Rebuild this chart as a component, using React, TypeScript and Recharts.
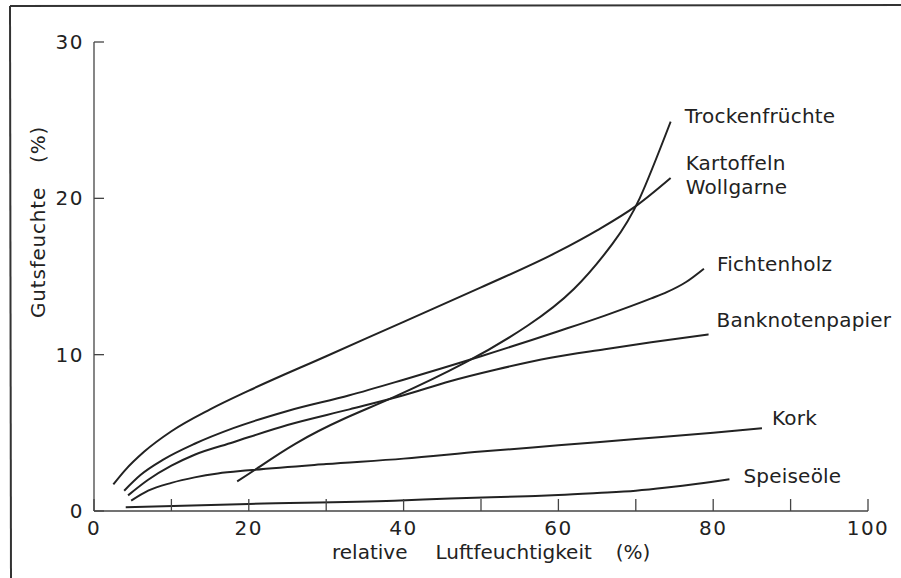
import React from "react";
import { LineChart, Line, XAxis, YAxis } from "recharts";

// x = relative Luftfeuchtigkeit (%), y = Gutsfeuchte (%)
const kartoffeln = [
  { x: 2.5, y: 1.7 }, { x: 4, y: 2.6 }, { x: 6.5, y: 3.8 }, { x: 10, y: 5.1 },
  { x: 15, y: 6.5 }, { x: 20, y: 7.7 }, { x: 30, y: 9.9 }, { x: 40, y: 12.1 },
  { x: 50, y: 14.3 }, { x: 60, y: 16.6 }, { x: 65, y: 17.95 }, { x: 70, y: 19.5 },
  { x: 74.5, y: 21.3 },
];
const trockenfruechte = [
  { x: 18.5, y: 1.9 }, { x: 21, y: 2.7 }, { x: 26, y: 4.3 }, { x: 32.3, y: 5.9 },
  { x: 38.8, y: 7.3 }, { x: 48, y: 9.5 }, { x: 56, y: 11.85 }, { x: 62, y: 14.2 },
  { x: 67, y: 17.1 }, { x: 70.5, y: 20.0 }, { x: 74.5, y: 24.9 },
];
const fichtenholz = [
  { x: 3.9, y: 1.3 }, { x: 6, y: 2.3 }, { x: 9, y: 3.3 }, { x: 13, y: 4.3 },
  { x: 18, y: 5.3 }, { x: 25, y: 6.4 }, { x: 33, y: 7.4 }, { x: 40, y: 8.4 },
  { x: 50, y: 9.9 }, { x: 60, y: 11.5 }, { x: 66, y: 12.5 }, { x: 72, y: 13.6 },
  { x: 74, y: 14.0 }, { x: 76.5, y: 14.65 }, { x: 78.8, y: 15.5 },
];
const banknotenpapier = [
  { x: 4.4, y: 1.0 }, { x: 7, y: 2.0 }, { x: 10, y: 2.9 }, { x: 13, y: 3.6 },
  { x: 18, y: 4.4 }, { x: 25, y: 5.5 }, { x: 33, y: 6.5 }, { x: 40, y: 7.4 },
  { x: 46, y: 8.3 }, { x: 52, y: 9.05 }, { x: 59, y: 9.8 }, { x: 66, y: 10.35 },
  { x: 72, y: 10.8 }, { x: 79.4, y: 11.3 },
];
const kork = [
  { x: 4.8, y: 0.66 }, { x: 7, y: 1.3 }, { x: 10, y: 1.8 }, { x: 13, y: 2.15 },
  { x: 16, y: 2.4 }, { x: 20, y: 2.6 }, { x: 30, y: 3.0 }, { x: 40, y: 3.35 },
  { x: 50, y: 3.8 }, { x: 60, y: 4.2 }, { x: 70, y: 4.6 }, { x: 80, y: 5.0 },
  { x: 86.3, y: 5.3 },
];
const speiseoele = [
  { x: 4.1, y: 0.24 }, { x: 20, y: 0.45 }, { x: 38.8, y: 0.66 }, { x: 46, y: 0.8 },
  { x: 56, y: 0.95 }, { x: 60, y: 1.02 }, { x: 65, y: 1.15 }, { x: 70, y: 1.3 },
  { x: 74, y: 1.5 }, { x: 78, y: 1.74 }, { x: 82.1, y: 2.03 },
];

const xTicks = [0, 10, 20, 30, 40, 50, 60, 70, 80, 90, 100];
const xLabels = [0, 20, 40, 60, 80, 100];
const yTicks = [0, 10, 20, 30];

const series = [
  { key: "trocken", data: trockenfruechte, curve: "natural", names: ["Trockenfrüchte"], dx: 14, dy: -6 },
  { key: "kartoffeln", data: kartoffeln, curve: "monotone", names: ["Kartoffeln", "Wollgarne"], dx: 15, dy: -15 },
  { key: "fichte", data: fichtenholz, curve: "monotone", names: ["Fichtenholz"], dx: 13, dy: -5 },
  { key: "bank", data: banknotenpapier, curve: "monotone", names: ["Banknotenpapier"], dx: 8, dy: -14 },
  { key: "kork", data: kork, curve: "monotone", names: ["Kork"], dx: 10, dy: -10 },
  { key: "oel", data: speiseoele, curve: "monotone", names: ["Speiseöle"], dx: 14, dy: -3 },
];

const font = "'DejaVu Sans', sans-serif";
const ink = "#222";

const XTick = (props: any) => {
  const { x, y, payload } = props;
  return (
    <g>
      <line x1={x} y1={y} x2={x} y2={y - 12} stroke="#444" strokeWidth={1.3} />
      {xLabels.includes(payload.value) && (
        <text x={x} y={y + 17} textAnchor="middle" dominantBaseline="central"
          fontSize={20} letterSpacing={1.5} fontFamily={font} fill={ink}>
          {payload.value}
        </text>
      )}
    </g>
  );
};

const YTick = (props: any) => {
  const { x, y, payload } = props;
  return (
    <g>
      <line x1={x} y1={y} x2={x + 10} y2={y} stroke="#444" strokeWidth={1.3} />
      <text x={x - 10} y={y} textAnchor="end" dominantBaseline="central"
        fontSize={20} letterSpacing={1.5} fontFamily={font} fill={ink}>
        {payload.value}
      </text>
    </g>
  );
};

const endLabel = (names: string[], len: number, dx: number, dy: number) => (props: any) => {
  const { x, y, index } = props;
  if (index !== len - 1) return null;
  return (
    <g>
      {names.map((n, i) => (
        <text key={n} x={x + dx} y={y + dy + i * 24} dominantBaseline="central"
          fontSize={20} letterSpacing={0.2} fontFamily={font} fill={ink}>
          {n}
        </text>
      ))}
    </g>
  );
};

export default function App() {
  return (
    <div style={{ position: "absolute", left: 0, top: 0, width: 901, height: 578, background: "#fff" }}>
      <svg width={901} height={578} style={{ position: "absolute", left: 0, top: 0 }}>
        <line x1={10} y1={6} x2={901} y2={5} stroke="#333" strokeWidth={2} />
        <line x1={10} y1={6} x2={11} y2={578} stroke="#333" strokeWidth={2} />
        <text x={332} y={552} dominantBaseline="central"
          fontSize={20} fontFamily={font} fill={ink}>
          <tspan>relative</tspan>
          <tspan dx={28}>Luftfeuchtigkeit</tspan>
          <tspan dx={24}>(%)</tspan>
        </text>
        <text x={38} y={318} dominantBaseline="central" letterSpacing={0.8}
          fontSize={20} fontFamily={font} fill={ink} transform="rotate(-90 38 318)">
          <tspan>Gutsfeuchte</tspan>
          <tspan dx={24}>(%)</tspan>
        </text>
      </svg>
      <div style={{ position: "absolute", left: 0, top: 0 }}>
        <LineChart width={901} height={578} margin={{ top: 42, right: 33, left: 34, bottom: 37 }}>
          <XAxis dataKey="x" type="number" domain={[0, 100]} ticks={xTicks} height={30}
            tickSize={0} tickMargin={0} tickLine={false} tick={<XTick />}
            axisLine={{ stroke: "#444", strokeWidth: 1.3 }} allowDataOverflow />
          <YAxis type="number" domain={[0, 30]} ticks={yTicks} width={60}
            tickSize={0} tickMargin={0} tickLine={false} tick={<YTick />}
            axisLine={{ stroke: "#444", strokeWidth: 1.3 }} allowDataOverflow />
          {series.map((s) => (
            <Line key={s.key} data={s.data} dataKey="y" type={s.curve as any} stroke={ink}
              strokeWidth={2} dot={false} isAnimationActive={false}
              label={endLabel(s.names, s.data.length, s.dx, s.dy)} />
          ))}
        </LineChart>
      </div>
    </div>
  );
}
